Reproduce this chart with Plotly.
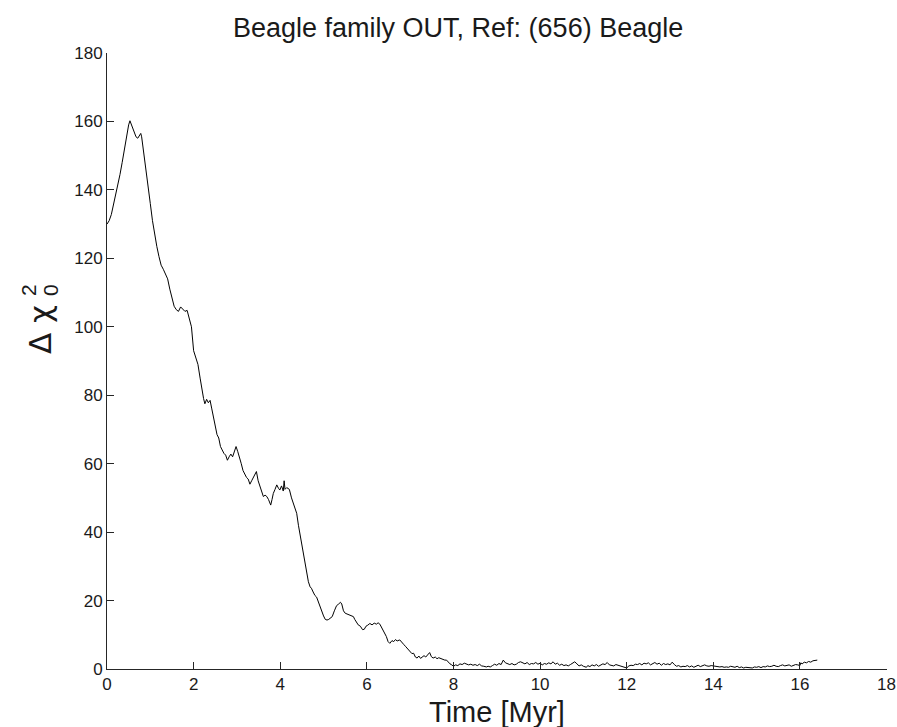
import plotly.graph_objects as go

time_myr = [
    0, 0.05, 0.1, 0.15, 0.2, 0.25, 0.3, 0.35, 0.4, 0.45, 0.5, 0.53, 0.57, 0.62, 0.67, 0.71, 0.74, 0.78, 0.8,
    0.85, 0.9, 0.95, 1.0, 1.05, 1.1, 1.15, 1.2, 1.25, 1.3, 1.35, 1.4, 1.45,
    1.5, 1.55, 1.6, 1.65, 1.7, 1.75, 1.8, 1.85, 1.9, 1.95, 2.0, 2.05, 2.1, 2.15, 2.2, 2.23, 2.26, 2.3, 2.34,
    2.38, 2.42, 2.46, 2.5, 2.54, 2.58, 2.62, 2.66, 2.7, 2.74, 2.78, 2.82, 2.86, 2.9, 2.94, 2.98, 3.02, 3.06,
    3.1, 3.14, 3.18, 3.22, 3.26, 3.3, 3.34, 3.38, 3.42, 3.45, 3.49, 3.53, 3.57, 3.61, 3.65, 3.69, 3.73, 3.78,
    3.81, 3.84, 3.88, 3.92, 3.96, 3.99, 4.03, 4.07, 4.09, 4.11, 4.15, 4.21, 4.26, 4.3, 4.34, 4.38, 4.42, 4.45,
    4.49, 4.53, 4.57, 4.61, 4.65, 4.69, 4.72, 4.76, 4.8, 4.84, 4.88, 4.92, 4.95, 5.0, 5.04, 5.08, 5.12, 5.16,
    5.2, 5.25, 5.3, 5.35, 5.39, 5.42, 5.46, 5.5, 5.55, 5.6, 5.65, 5.69, 5.72, 5.76, 5.8, 5.85, 5.9, 5.94,
    5.98, 6.02, 6.07, 6.12, 6.17, 6.22, 6.26, 6.3, 6.35, 6.4, 6.45, 6.49, 6.53, 6.58, 6.62, 6.66, 6.7, 6.76,
    6.8, 6.85, 6.9, 6.94, 7.0, 7.04, 7.08, 7.12, 7.16, 7.2, 7.24, 7.28, 7.32, 7.36, 7.41, 7.45, 7.49, 7.53,
    7.58, 7.62, 7.66, 7.7, 7.75, 7.8, 7.84, 7.88, 7.92, 7.96, 8.0, 8.05, 8.1, 8.15, 8.2, 8.25, 8.3, 8.35,
    8.4, 8.45, 8.5, 8.55, 8.6, 8.65, 8.7, 8.76, 8.8, 8.85, 8.9, 8.95, 9.0, 9.05, 9.1, 9.15, 9.2, 9.25, 9.3,
    9.35, 9.4, 9.45, 9.5, 9.55, 9.6, 9.65, 9.7, 9.75, 9.8, 9.85, 9.9, 9.95, 10.0, 10.05, 10.1, 10.15, 10.2,
    10.25, 10.3, 10.35, 10.4, 10.45, 10.5, 10.55, 10.6, 10.65, 10.7, 10.75, 10.8, 10.85, 10.9, 10.95, 11.0,
    11.07, 11.1, 11.15, 11.2, 11.25, 11.3, 11.35, 11.4, 11.45, 11.5, 11.55, 11.6, 11.65, 11.7, 11.75, 11.8,
    11.85, 11.9, 11.95, 12.0, 12.05, 12.1, 12.15, 12.2, 12.25, 12.3, 12.35, 12.4, 12.45, 12.5, 12.55, 12.6,
    12.65, 12.7, 12.75, 12.8, 12.85, 12.9, 12.95, 13.0, 13.05, 13.1, 13.15, 13.2, 13.25, 13.3, 13.35, 13.4,
    13.45, 13.5, 13.55, 13.6, 13.65, 13.7, 13.75, 13.8, 13.85, 13.9, 13.95, 14.0, 14.05, 14.1, 14.15, 14.2,
    14.25, 14.3, 14.35, 14.4, 14.45, 14.5, 14.55, 14.6, 14.65, 14.7, 14.75, 14.8, 14.85, 14.9, 14.95, 15.0,
    15.05, 15.1, 15.15, 15.2, 15.25, 15.3, 15.35, 15.4, 15.45, 15.5, 15.55, 15.6, 15.65, 15.7, 15.75, 15.8,
    15.85, 15.9, 15.95, 16.0, 16.02, 16.05, 16.1, 16.15, 16.2, 16.25, 16.3, 16.35, 16.4,
]

delta_chi2 = [
    130, 131, 132.8, 135.5, 138.5, 141, 144.5, 148, 152, 156, 159, 160.2, 159, 157.2, 155.5, 155.1, 155.8, 156.5, 155.5,
    151, 146, 141, 136, 131, 127, 123.5, 120.5, 118, 116.8, 115.5, 114, 111,
    108, 106, 105, 104.5, 105.8, 105.2, 104.5, 104.8, 102.5, 100, 93, 91, 89, 85, 80.5, 79, 77.5, 78.8, 77.8,
    78.5, 76, 73.5, 71.5, 68.5, 67.5, 65, 64, 63, 62.5, 61, 62, 62.8, 62, 63.5, 65, 63.5, 62,
    60, 58, 57, 56, 55.5, 54, 55, 56, 56.8, 57.7, 55, 53.3, 52, 50.4, 50.8, 50.4, 49.5, 47.9,
    49.5, 51.3, 52.5, 53.8, 52.8, 52.3, 53.5, 52, 55, 52.5, 53, 52.5, 50, 48.4, 47, 45.5, 42, 39.7,
    37, 34.8, 31, 27.9, 25.5, 24, 23.6, 22.5, 21.5, 21, 19.5, 18, 17.2, 15.5, 14.5, 14.3, 14.5, 14.8,
    15.3, 17, 18.5, 19, 19.5, 19, 17, 16.3, 16, 15.6, 15.5, 15.3, 14.5, 13.8, 12.9, 12.5, 11.5, 11.6,
    12.5, 12.8, 13.3, 12.9, 13.4, 13.1, 13.5, 13.1, 12, 11, 9.5, 8, 7.5, 8.3, 8, 8.6, 8.2, 8.5,
    7.8, 7.2, 6.5, 6, 5, 4.5, 4.6, 3.5, 3.2, 3.8, 3.1, 3.6, 3.9, 3.5, 4.2, 4.8, 3.6, 3.2,
    3.5, 3.0, 3.3, 3.1, 2.8, 2.6, 2.6, 2.0, 1.5, 1.2, 0.8, 1.2, 1.0, 1.5, 1.3, 1.7, 1.5, 1.2,
    1.4, 1.1, 1.3, 1.0, 1.4, 0.9, 0.8, 0.6, 0.8, 0.6, 1.0, 1.4, 1.1, 1.6, 1.3, 2.6, 1.8, 1.5, 1.3,
    1.6, 1.2, 1.4, 1.9, 2.1, 1.7, 1.5, 1.9, 1.3, 1.6, 1.5, 1.9, 1.4, 1.7, 1.2, 1.6, 1.4, 1.8,
    1.5, 2.1, 1.4, 1.7, 1.1, 1.4, 1.0, 1.2, 0.9, 1.3, 1.7, 2.1, 1.5, 0.9, 1.2, 0.8,
    0.5, 1.0, 0.7, 1.2, 0.9, 1.3, 0.8, 1.2, 1.5, 1.3, 1.9, 1.2, 1.0, 0.9, 1.3, 1.1,
    1.0, 0.8, 0.7, 0.3, 0.9, 1.1, 1.0, 1.4, 1.3, 1.6, 1.2, 1.7, 1.5, 1.8, 1.2, 1.5,
    1.9, 1.4, 1.7, 1.1, 1.6, 1.3, 1.5, 1.2, 2.0, 1.3, 0.8, 1.0, 0.6, 0.8, 0.7, 1.0,
    0.6, 0.9, 0.5, 0.8, 1.1, 0.7, 0.9, 1.2, 0.9, 0.8, 1.0, 0.9, 0.7, 0.8, 0.6, 0.7,
    0.5, 0.6, 0.5, 0.8, 0.6, 0.5, 0.8, 0.4, 0.6, 0.3, 0.5, 0.4, 0.5, 0.3, 0.6, 0.5,
    0.7, 0.4, 0.7, 0.6, 0.9, 0.7, 0.8, 1.1, 0.8, 0.7, 1.0, 1.2, 0.9, 1.0, 1.2, 0.8,
    1.0, 1.3, 1.2, 1.0, 1.8, 1.5, 2.0, 1.8, 2.2, 2.0, 2.4, 2.5, 2.6,
]

x_ticks = [0, 2, 4, 6, 8, 10, 12, 14, 16, 18]
y_ticks = [0, 20, 40, 60, 80, 100, 120, 140, 160, 180]

FONT = "Liberation Sans, Arial, Helvetica, sans-serif"
AX = "#262626"
TXT = "#1a1a1a"

fig = go.Figure()
fig.add_trace(go.Scatter(x=time_myr, y=delta_chi2, mode="lines",
                         line=dict(color="black", width=1), showlegend=False))

L, R, T, B = 107, 10, 53, 58
W, H = 897, 727
pw, ph = W - L - R, H - T - B

def px(xp):
    return (xp - L) / pw

def py(yp):
    return (H - B - yp) / ph

axis_common = dict(ticks="inside", ticklen=7, tickcolor=AX, tickwidth=1,
                   showline=True, linecolor=AX, linewidth=1, showgrid=False,
                   zeroline=False, automargin=False,
                   tickfont=dict(size=17, family=FONT, color=TXT))

fig.update_layout(
    width=W, height=H, autosize=False,
    margin=dict(l=L, r=R, t=T, b=B, pad=0),
    paper_bgcolor="white", plot_bgcolor="white",
    font=dict(family=FONT, color=TXT),
    xaxis=dict(range=[0, 18.01], tickvals=x_ticks, ticktext=[str(v) for v in x_ticks],
               ticklabeloverflow="allow", **axis_common),
    yaxis=dict(range=[0, 180], tickvals=y_ticks, ticktext=[str(v) for v in y_ticks], **axis_common),
    annotations=[
        dict(text="Beagle family OUT, Ref: (656) Beagle", x=px(458), y=py(28),
             xref="paper", yref="paper", showarrow=False, xanchor="center", yanchor="middle",
             font=dict(size=27, family=FONT, color=TXT)),
        dict(text="Time [Myr]", x=0.5, y=py(712),
             xref="paper", yref="paper", showarrow=False, xanchor="center", yanchor="middle",
             font=dict(size=29, family=FONT, color=TXT)),
        dict(text="Δ χ", x=px(40), y=py(330), textangle=-90,
             xref="paper", yref="paper", showarrow=False, xanchor="center", yanchor="middle",
             font=dict(size=31, family="DejaVu Sans, sans-serif", color=TXT)),
        dict(text="2", x=px(28), y=py(290), textangle=-90,
             xref="paper", yref="paper", showarrow=False, xanchor="center", yanchor="middle",
             font=dict(size=21, family=FONT, color=TXT)),
        dict(text="0", x=px(50), y=py(290), textangle=-90,
             xref="paper", yref="paper", showarrow=False, xanchor="center", yanchor="middle",
             font=dict(size=21, family=FONT, color=TXT)),
    ],
)

fig.write_html("out.html")
